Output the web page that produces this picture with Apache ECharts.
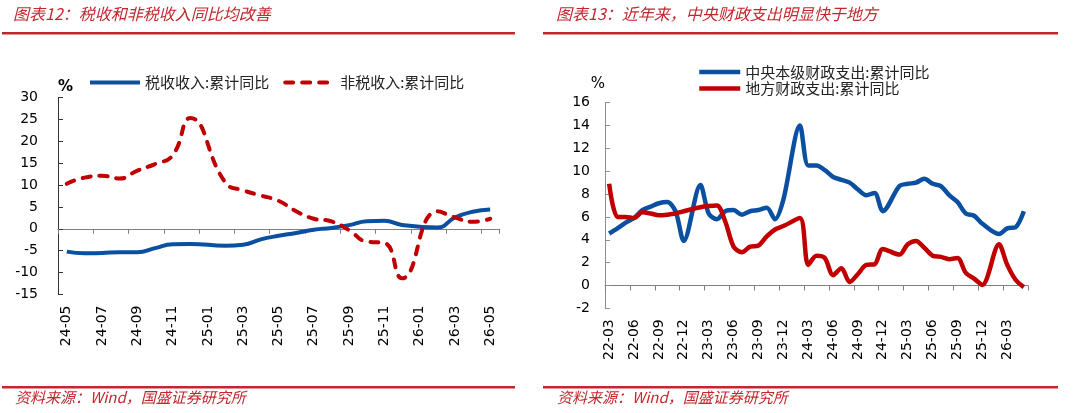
<!DOCTYPE html>
<html>
<head>
<meta charset="utf-8">
<script src="https://cdn.jsdelivr.net/npm/echarts@6/dist/echarts.min.js"></script>
<style>
  html, body { margin: 0; padding: 0; background: #fff; }
  #chartContainer { width: 1080px; height: 413px; }
</style>
</head>
<body>
<div id="chartContainer"></div>
<script>
// left panel: tax / non-tax revenue, cumulative yoy (%), no January prints
var leftMonths = ['24-05', '24-06', '24-07', '24-08', '24-09', '24-10', '24-11', '24-12',
    '25-01', '25-02', '25-03', '25-04', '25-05', '25-06', '25-07', '25-08', '25-09',
    '25-10', '25-11', '25-12', '26-01', '26-02', '26-03', '26-04', '26-05'];
var taxRevenue = [-5.2, -5.6, -5.5, -5.35, -5.35, -4.4, -3.5, -3.45,
    null, -3.85, -3.65, -2.4, -1.6, -0.95, -0.2, 0.2, 0.85,
    1.75, 1.85, 0.9, null, 0.3, 2.6, 3.9, 4.4];
var nonTaxRevenue = [10.3, 11.7, 12.1, 11.5, 13.3, 14.8, 16.8, 25.3,
    null, 10.5, 8.8, 7.6, 6.4, 4.0, 2.3, 1.7, -0.3,
    -2.9, -3.2, -11.3, null, 4.0, 2.6, 1.6, 2.3];

// right panel: central / local expenditure, cumulative yoy (%)
var rightMonths = ['22-03', '22-04', '22-05', '22-06', '22-07', '22-08', '22-09', '22-10', '22-11', '22-12',
    '23-01', '23-02', '23-03', '23-04', '23-05', '23-06', '23-07', '23-08', '23-09', '23-10', '23-11', '23-12',
    '24-01', '24-02', '24-03', '24-04', '24-05', '24-06', '24-07', '24-08', '24-09', '24-10', '24-11', '24-12',
    '25-01', '25-02', '25-03', '25-04', '25-05', '25-06', '25-07', '25-08', '25-09', '25-10', '25-11', '25-12',
    '26-01', '26-02', '26-03', '26-04', '26-05'];
var centralExp = [4.55, 5.0, 5.5, 5.9, 6.6, 6.9, 7.2, 7.3, 6.5, 3.9,
    null, 8.8, 6.3, 5.8, 6.5, 6.6, 6.2, 6.5, 6.6, 6.8, 5.8, 7.5,
    null, 14.0, 10.5, 10.5, 10.1, 9.5, 9.25, 9.0, 8.4, 7.9, 8.1, 6.5,
    null, 8.7, 8.9, 9.0, 9.35, 8.9, 8.7, 7.9, 7.3, 6.3, 6.1, 5.4,
    null, 4.5, 5.0, 5.1, 6.5];
var localExp = [8.9, 6.0, 6.0, 5.9, 6.4, 6.3, 6.15, 6.2, 6.3, 6.5,
    null, 6.85, 6.95, 7.0, 5.6, 3.4, 2.9, 3.4, 3.5, 4.3, 4.9, 5.2,
    null, 5.9, 1.8, 2.6, 2.4, 0.9, 1.5, 0.3, 1.0, 1.8, 1.85, 3.2,
    null, 2.7, 3.6, 3.9, 3.3, 2.6, 2.5, 2.3, 2.4, 1.1, 0.6, 0.05,
    null, 3.6, 1.8, 0.5, -0.15];

var BLUE = '#0a4fa0';
var RED = '#c00000';
var TITLE_RED = '#c1272d';
var NUM_FONT = 'DejaVu Sans';
var CJK_FONT = 'Noto Sans CJK SC';

var chartDom = document.getElementById('chartContainer');
var myChart = echarts.init(chartDom, null, { renderer: 'canvas' });

function zeroAxis(gridIndex, data, tickEvery) {
    return {
        type: 'category', gridIndex: gridIndex, data: data, boundaryGap: true,
        position: 'bottom',
        axisLine: { show: true, onZero: true, lineStyle: { color: '#808080', width: 1 } },
        axisTick: { show: true, interval: tickEvery - 1, length: 5, lineStyle: { color: '#808080' } },
        axisLabel: { show: false },
        splitLine: { show: false }
    };
}
function labelAxis(gridIndex, data, labelEvery) {
    return {
        type: 'category', gridIndex: gridIndex, data: data, boundaryGap: true,
        position: 'bottom',
        axisLine: { show: false, onZero: false },
        axisTick: { show: false },
        axisLabel: {
            interval: labelEvery - 1, rotate: 90, margin: 11,
            fontFamily: NUM_FONT, fontSize: 14, color: '#000'
        },
        splitLine: { show: false }
    };
}

var legendText = { fontFamily: CJK_FONT, fontSize: 15, color: '#222' };

var option = {
    animation: false,
    backgroundColor: '#fff',
    grid: [
        { left: 58, top: 97.5, width: 441, height: 197 },
        { left: 605, top: 102.7, width: 423, height: 205.6 }
    ],
    xAxis: [
        zeroAxis(0, leftMonths, 2),
        labelAxis(0, leftMonths, 2),
        zeroAxis(1, rightMonths, 3),
        labelAxis(1, rightMonths, 3)
    ],
    yAxis: [
        {
            type: 'value', gridIndex: 0, min: -15, max: 30, interval: 5,
            name: '%', nameLocation: 'end', nameGap: 3,
            nameTextStyle: { fontFamily: NUM_FONT, fontSize: 15, fontWeight: 'bold', color: '#000', align: 'left' },
            axisLine: { show: true, lineStyle: { color: '#333' } },
            axisTick: { show: true, inside: true, length: 5, lineStyle: { color: '#333' } },
            axisLabel: { margin: 20, fontFamily: NUM_FONT, fontSize: 14, color: '#000' },
            splitLine: { show: false }
        },
        {
            type: 'value', gridIndex: 1, min: -2, max: 16, interval: 2,
            name: '%', nameLocation: 'end', nameGap: 11,
            nameTextStyle: { fontFamily: NUM_FONT, fontSize: 15, color: '#000', align: 'right' },
            axisLine: { show: true, lineStyle: { color: '#8c8c8c' } },
            axisTick: { show: true, inside: true, length: 5, lineStyle: { color: '#8c8c8c' } },
            axisLabel: { margin: 15, fontFamily: NUM_FONT, fontSize: 14, color: '#000' },
            splitLine: { show: false }
        }
    ],
    legend: [
        {
            data: ['税收收入:累计同比', '非税收入:累计同比'],
            left: 83, top: 70, itemWidth: 50, itemHeight: 14, itemGap: 14,
            itemStyle: { opacity: 0 }, lineStyle: { width: 4 },
            textStyle: legendText
        },
        {
            data: ['中央本级财政支出:累计同比', '地方财政支出:累计同比'],
            orient: 'vertical', left: 692, top: 59.5, itemWidth: 41, itemHeight: 14, itemGap: 1.5,
            itemStyle: { opacity: 0 }, lineStyle: { width: 4.5 },
            textStyle: legendText
        }
    ],
    series: [
        {
            name: '税收收入:累计同比', type: 'line', xAxisIndex: 0, yAxisIndex: 0,
            data: taxRevenue, symbol: 'none', smooth: 0.5, connectNulls: true,
            lineStyle: { color: BLUE, width: 4 }, itemStyle: { color: BLUE }, z: 3
        },
        {
            name: '非税收入:累计同比', type: 'line', xAxisIndex: 0, yAxisIndex: 0,
            data: nonTaxRevenue, symbol: 'none', smooth: 0.5, connectNulls: true,
            lineStyle: { color: RED, width: 4, type: [8, 9], cap: 'round' }, itemStyle: { color: RED }, z: 4
        },
        {
            name: '中央本级财政支出:累计同比', type: 'line', xAxisIndex: 2, yAxisIndex: 1,
            data: centralExp, symbol: 'none', smooth: 0.3, connectNulls: true,
            lineStyle: { color: BLUE, width: 4.5 }, itemStyle: { color: BLUE }, z: 3
        },
        {
            name: '地方财政支出:累计同比', type: 'line', xAxisIndex: 2, yAxisIndex: 1,
            data: localExp, symbol: 'none', smooth: 0.3, connectNulls: true,
            lineStyle: { color: RED, width: 4.5 }, itemStyle: { color: RED }, z: 4
        }
    ],
    graphic: [
        // titles
        { type: 'text', left: 13, top: 6, style: { text: '图表12：税收和非税收入同比均改善', fontFamily: CJK_FONT, fontSize: 16, fontStyle: 'italic', fill: TITLE_RED } },
        { type: 'text', left: 556, top: 6, style: { text: '图表13：近年来，中央财政支出明显快于地方', fontFamily: CJK_FONT, fontSize: 16, fontStyle: 'italic', fill: TITLE_RED } },
        // red rules
        { type: 'rect', shape: { x: 2, y: 32, width: 513, height: 2.6 }, style: { fill: TITLE_RED } },
        { type: 'rect', shape: { x: 543, y: 32, width: 515, height: 2.6 }, style: { fill: TITLE_RED } },
        { type: 'rect', shape: { x: 2, y: 386, width: 513, height: 2.6 }, style: { fill: TITLE_RED } },
        { type: 'rect', shape: { x: 543, y: 386, width: 515, height: 2.6 }, style: { fill: TITLE_RED } },
        // sources
        { type: 'text', left: 15, top: 390, style: { text: '资料来源：Wind，国盛证券研究所', fontFamily: CJK_FONT, fontSize: 15, fontStyle: 'italic', fill: TITLE_RED } },
        { type: 'text', left: 557, top: 390, style: { text: '资料来源：Wind，国盛证券研究所', fontFamily: CJK_FONT, fontSize: 15, fontStyle: 'italic', fill: TITLE_RED } }
    ]
};

myChart.setOption(option);
</script>
</body>
</html>
